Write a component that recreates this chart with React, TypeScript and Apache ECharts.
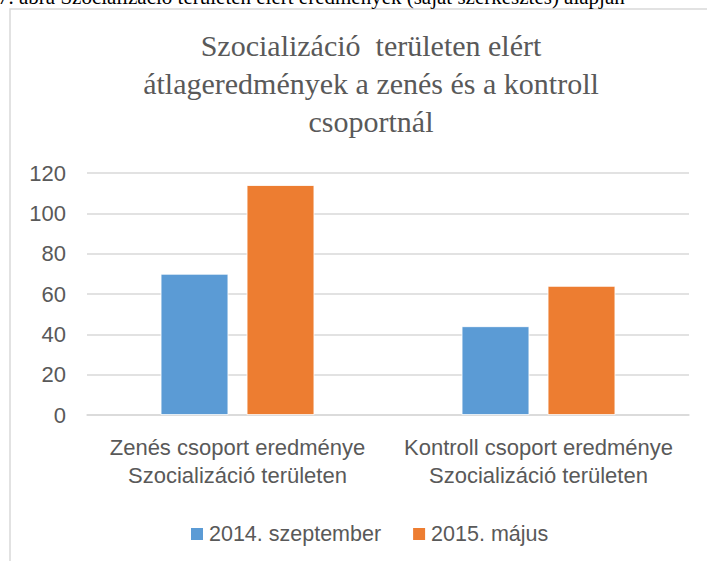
import React, { useEffect, useRef } from "react";
import * as echarts from "echarts";

const titleLines = [
  "Szocializáció  területen elért",
  "átlageredmények a zenés és a kontroll",
  "csoportnál",
];
const captionText = "7. ábra Szocializáció területen elért eredmények (saját szerkesztés) alapján";
const categories = [
  "Zenés csoport eredménye\nSzocializáció területen",
  "Kontroll csoport eredménye\nSzocializáció területen",
];
const seriesNames = ["2014. szeptember", "2015. május"];
const sept2014 = [70, 44];
const may2015 = [114, 64];
const colors = ["#5B9BD5", "#ED7D31"];

const FONT = "Liberation Sans, Arial, sans-serif";

export default function App() {
  const ref = useRef<HTMLDivElement>(null);
  useEffect(() => {
    if (!ref.current) return;
    const chart = echarts.init(ref.current, null, { renderer: "svg" });
    chart.setOption({
      animation: false,
      backgroundColor: "#ffffff",
      graphic: [
        {
          type: "rect",
          shape: { x: 10, y: 9, width: 760, height: 620 },
          style: { fill: "#ffffff", stroke: "#d9d9d9", lineWidth: 1.5 },
          z: -10,
          silent: true,
        },
        {
          type: "text",
          x: -2,
          y: 7,
          style: {
            text: captionText,
            font: "21px 'Liberation Serif', 'Times New Roman', serif",
            fill: "#000000",
            verticalAlign: "bottom",
          },
          silent: true,
        },
        {
          type: "text",
          x: 371,
          y: 26,
          style: {
            text: titleLines.join("\n"),
            font: "30px 'Liberation Serif', 'Times New Roman', serif",
            fill: "#595959",
            align: "center",
            lineHeight: 38,
          },
          silent: true,
        },
      ],
      legend: {
        data: seriesNames,
        bottom: 16,
        left: 189,
        padding: 0,
        itemWidth: 14,
        itemHeight: 14,
        itemGap: 30,
        icon: "rect",
        textStyle: { fontFamily: FONT, fontSize: 21.5, color: "#595959" },
      },
      grid: { left: 87, right: 18, top: 173, bottom: 146, containLabel: false },
      xAxis: {
        type: "category",
        data: categories,
        axisLine: { lineStyle: { color: "#d9d9d9", width: 1.5 } },
        axisTick: { show: false },
        axisLabel: {
          fontFamily: FONT,
          fontSize: 22,
          color: "#595959",
          lineHeight: 28,
          margin: 18,
          interval: 0,
        },
      },
      yAxis: {
        type: "value",
        min: 0,
        max: 120,
        interval: 20,
        axisLine: { show: false },
        axisTick: { show: false },
        splitLine: { lineStyle: { color: "#d9d9d9", width: 1.5 } },
        axisLabel: { fontFamily: FONT, fontSize: 22, color: "#595959", margin: 21 },
      },
      series: [
        {
          name: seriesNames[0],
          type: "bar",
          data: sept2014,
          barWidth: "22.5%",
          barGap: "27%",
          itemStyle: { color: colors[0], borderColor: "#ffffff", borderWidth: 0.8 },
        },
        {
          name: seriesNames[1],
          type: "bar",
          data: may2015,
          barWidth: "22.5%",
          barGap: "27%",
          itemStyle: { color: colors[1], borderColor: "#ffffff", borderWidth: 0.8 },
        },
      ],
    });
    return () => chart.dispose();
  }, []);
  return (
    <div
      ref={ref}
      style={{ position: "absolute", left: 0, top: 0, width: 707, height: 561 }}
    />
  );
}
